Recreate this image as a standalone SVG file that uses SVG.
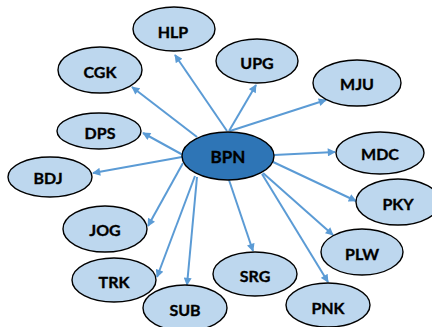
<svg xmlns="http://www.w3.org/2000/svg" width="432" height="327" viewBox="0 0 432 327">
  <defs>
    <marker id="arrow" viewBox="0 0 10 10" refX="9" refY="5" markerWidth="9" markerHeight="8" markerUnits="userSpaceOnUse" orient="auto">
      <path d="M0,0 L10,5 L0,10 z" fill="#5b9bd5"/>
    </marker>
    <style>
      .node ellipse { fill: #bdd7ee; stroke: #000; stroke-width: 1.4; }
      .hub ellipse { fill: #2e75b6; stroke: #000; stroke-width: 1.4; }
      text { font-family: Lato, "Liberation Sans", sans-serif; font-weight: bold; font-size: 16px; fill: #000; stroke: #000; stroke-width: 0.35; text-anchor: middle; dominant-baseline: central; }
      .hub text { font-size: 17px; }
      #edges line { stroke: #5b9bd5; stroke-width: 2; marker-end: url(#arrow); }
    </style>
  </defs>
  <rect width="432" height="327" fill="#fff"/>

  <g id="edges">
    <line x1="227" y1="131" x2="175" y2="55"/>
    <line x1="229" y1="131" x2="256" y2="85"/>
    <line x1="230" y1="131" x2="326" y2="100"/>
    <line x1="197" y1="137" x2="132" y2="87"/>
    <line x1="183" y1="155" x2="143" y2="133"/>
    <line x1="182" y1="157" x2="93" y2="173"/>
    <line x1="274" y1="155" x2="335" y2="152"/>
    <line x1="271" y1="161" x2="356" y2="201"/>
    <line x1="263" y1="173" x2="333" y2="235"/>
    <line x1="262" y1="174" x2="328" y2="282"/>
    <line x1="229" y1="180" x2="253" y2="251"/>
    <line x1="197" y1="177" x2="187" y2="285"/>
    <line x1="195" y1="176" x2="157" y2="277"/>
    <line x1="183" y1="163" x2="148" y2="226"/>
  </g>

  <g id="HLP" class="node"><ellipse cx="174" cy="29" rx="41" ry="22"/><text x="173" y="31">HLP</text></g>
  <g id="UPG" class="node"><ellipse cx="257" cy="61" rx="41" ry="22"/><text x="257" y="62">UPG</text></g>
  <g id="MJU" class="node"><ellipse cx="357" cy="83" rx="44" ry="23"/><text x="357" y="83">MJU</text></g>
  <g id="CGK" class="node"><ellipse cx="100" cy="70" rx="42" ry="23"/><text x="100" y="71">CGK</text></g>
  <g id="DPS" class="node"><ellipse cx="99" cy="131" rx="42" ry="18"/><text x="100" y="132">DPS</text></g>
  <g id="BDJ" class="node"><ellipse cx="50" cy="177" rx="42" ry="20"/><text x="48" y="177">BDJ</text></g>
  <g id="MDC" class="node"><ellipse cx="380" cy="153" rx="44" ry="21"/><text x="380" y="153">MDC</text></g>
  <g id="PKY" class="node"><ellipse cx="398" cy="202" rx="42" ry="23"/><text x="398" y="203">PKY</text></g>
  <g id="PLW" class="node"><ellipse cx="362" cy="252" rx="41" ry="23"/><text x="362" y="253">PLW</text></g>
  <g id="SRG" class="node"><ellipse cx="255" cy="274" rx="42" ry="22"/><text x="255" y="275">SRG</text></g>
  <g id="PNK" class="node"><ellipse cx="328" cy="305" rx="42" ry="22"/><text x="328" y="307">PNK</text></g>
  <g id="JOG" class="node"><ellipse cx="105" cy="229" rx="42" ry="23"/><text x="105" y="229">JOG</text></g>
  <g id="TRK" class="node"><ellipse cx="114" cy="280" rx="42" ry="22"/><text x="114" y="281">TRK</text></g>
  <g id="SUB" class="node"><ellipse cx="185" cy="308" rx="42" ry="23"/><text x="185" y="309">SUB</text></g>

  <g id="BPN" class="hub"><ellipse cx="228" cy="156" rx="46" ry="24"/><text x="228" y="156">BPN</text></g>
</svg>
